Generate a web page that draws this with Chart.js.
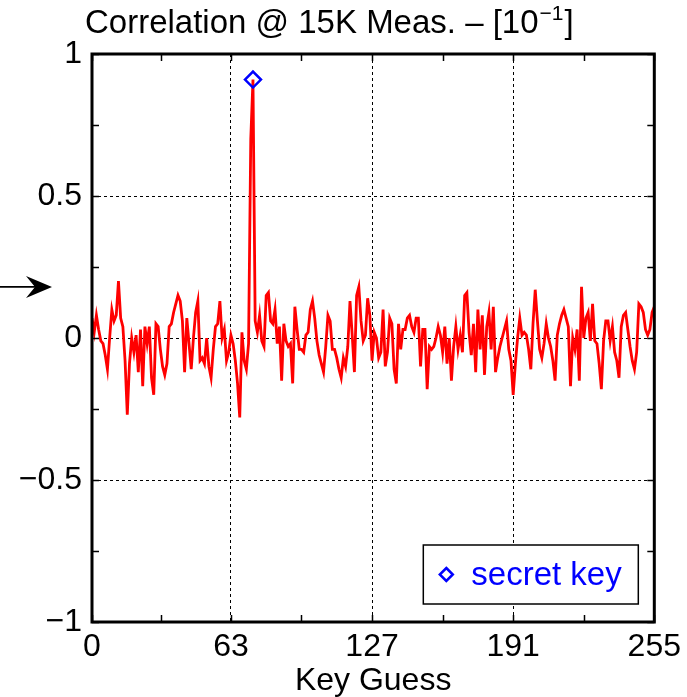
<!DOCTYPE html>
<html>
<head>
<meta charset="utf-8">
<script src="https://cdn.jsdelivr.net/npm/chart.js@4/dist/chart.umd.min.js"></script>
<style>
html, body { margin: 0; padding: 0; background: #fff; }
#wrap { width: 687px; height: 697px; }
</style>
</head>
<body>
<div id="wrap"><canvas id="myChart"></canvas></div>
<script>
// correlation per key guess (0..255)
const correlation = [
	0.07, 0.02, 0.08, 0.03, -0.01, -0.02, -0.06, -0.11, 0.0, 0.10,
	0.06, 0.08, 0.20, 0.07, 0.04, -0.08, -0.27, -0.09, 0.00, -0.05,
	0.01, -0.12, 0.03, -0.17, 0.04, -0.02, 0.04, -0.14, -0.20, 0.05,
	0.04, -0.04, -0.10, -0.13, -0.09, 0.04, 0.05, 0.09, 0.12, 0.15,
	0.13, 0.06, -0.12, 0.07,
	-0.02, -0.11, 0.0, 0.09, 0.13, -0.08, -0.07, -0.09, 0.0, -0.10,
	-0.14, -0.04, 0.04, 0.05, 0.13, 0.0, 0.03, -0.08, -0.05, 0.01,
	-0.02, -0.08, -0.16, -0.28, 0.02, -0.08, -0.11, -0.02, 0.70, 0.91,
	0.06, 0.02, 0.08, -0.01, -0.03, 0.15, 0.16, 0.06, 0.05, 0.10,
	-0.02, 0.04, -0.15,
	0.05, -0.01, -0.03, -0.02, -0.16, 0.11, 0.03, -0.04, -0.04, -0.05,
	0.01, 0.02, 0.10, 0.13, 0.07, -0.01, -0.06, -0.09, -0.12, -0.03,
	0.08, 0.06, -0.04, -0.04, -0.07, -0.11, -0.14, -0.07, -0.10, -0.03,
	0.13, 0.01, -0.12, 0.15, 0.18, 0.06, -0.01, 0.01, 0.14, 0.08,
	-0.08, 0.02, 0.0, -0.07,
	-0.05, 0.10, -0.10, -0.05, 0.07, 0.05, -0.11, -0.16, 0.05, -0.04,
	0.03, 0.03, 0.07, 0.08, 0.04, 0.02, 0.07, 0.07, -0.10, 0.03,
	0.03, -0.18, -0.03, -0.04, -0.03, 0.0, 0.04, 0.01, -0.05, 0.04,
	-0.09, 0.0, -0.15, -0.03, 0.04, -0.04, 0.01, -0.05, 0.15, 0.16,
	0.02, -0.06, 0.05, -0.12,
	0.10, -0.04, 0.08, -0.13, 0.04, 0.09, -0.04, 0.11, -0.12, -0.07,
	-0.03, 0.0, 0.03, 0.06, -0.04, -0.08, -0.20, -0.09, 0.0, 0.07,
	0.01, 0.02, 0.01, -0.04, -0.11, 0.05, 0.17, 0.06, -0.04, -0.07,
	-0.02, 0.05, 0.0, -0.03, -0.08, -0.15, 0.01, 0.05, 0.08, 0.10,
	0.07, 0.04, -0.17,
	0.0, -0.04, 0.03, -0.15, 0.18, 0.0, 0.07, 0.09, -0.01, 0.12,
	-0.01, -0.02, -0.09, -0.18, -0.01, 0.06, 0.06, -0.01, 0.04, -0.05,
	-0.08, -0.14, 0.04, 0.08, 0.09, 0.03, -0.03, -0.08, -0.11, -0.05,
	0.12, 0.11, 0.09, 0.03, 0.01, 0.03, 0.09, 0.11,
]
const secretKey = [73]
const xTickLabels = [0, 63, 127, 191, 255]
const xMinorTicks = [31.5, 95, 159, 223]
const yTickLabels = [-1, -0.5, 0, 0.5, 1]
const yMinorTicks = [-0.75, -0.25, 0.25, 0.75]
const arrowLevel = 0.18

const FONT = '"Liberation Sans", Arial, Helvetica, sans-serif'

// frame, inward ticks, title, legend and arrow
const decorations = {
	id: "decorations",
	afterDraw: chart => {
		const ctx = chart.ctx
		const { left, right, top, bottom } = chart.chartArea
		const xs = chart.scales.x
		const ys = chart.scales.y
		const tl = 7

		ctx.save()
		ctx.strokeStyle = "#000"
		ctx.lineWidth = 1.5
		ctx.beginPath()
		xTickLabels.concat(xMinorTicks).forEach(v => {
			const px = Math.round(xs.getPixelForValue(v)) + 0.5
			ctx.moveTo(px, bottom); ctx.lineTo(px, bottom - tl)
			ctx.moveTo(px, top); ctx.lineTo(px, top + tl)
		})
		yTickLabels.concat(yMinorTicks).forEach(v => {
			const py = Math.round(ys.getPixelForValue(v)) + 0.5
			ctx.moveTo(left, py); ctx.lineTo(left + tl, py)
			ctx.moveTo(right, py); ctx.lineTo(right - tl, py)
		})
		ctx.stroke()

		ctx.lineWidth = 3
		ctx.strokeRect(left, top, right - left, bottom - top)

		// title with superscript
		ctx.fillStyle = "#000"
		ctx.textBaseline = "alphabetic"
		ctx.textAlign = "left"
		ctx.font = "33px " + FONT
		const t1 = "Correlation @ 15K Meas. \u2013 [10"
		let tx = 85
		const ty = 33
		ctx.fillText(t1, tx, ty)
		tx += ctx.measureText(t1).width
		ctx.font = "21px " + FONT
		ctx.fillText("\u22121", tx + 1, ty - 13)
		tx += ctx.measureText("\u22121").width + 2
		ctx.font = "33px " + FONT
		ctx.fillText("]", tx, ty)

		// legend box
		const ds = chart.data.datasets[0]
		const lw = 215, lh = 59
		const lx = right - 16 - lw
		const ly = bottom - 18 - lh
		ctx.fillStyle = "#fff"
		ctx.fillRect(lx, ly, lw, lh)
		ctx.lineWidth = 1.5
		ctx.strokeStyle = "#000"
		ctx.strokeRect(lx, ly, lw, lh)
		const mx = lx + 23, my = ly + lh / 2
		const r = 6.5
		ctx.strokeStyle = ds.pointBorderColor
		ctx.lineWidth = 2.5
		ctx.beginPath()
		ctx.moveTo(mx, my - r); ctx.lineTo(mx + r, my); ctx.lineTo(mx, my + r); ctx.lineTo(mx - r, my)
		ctx.closePath()
		ctx.stroke()
		ctx.fillStyle = ds.pointBorderColor
		ctx.font = "33px " + FONT
		ctx.textBaseline = "middle"
		ctx.fillText(ds.label, lx + 48, my + 1)

		// arrow pointing at the axis
		const ay = ys.getPixelForValue(arrowLevel)
		ctx.strokeStyle = "#000"
		ctx.fillStyle = "#000"
		ctx.lineWidth = 1.8
		ctx.beginPath()
		ctx.moveTo(0, ay); ctx.lineTo(38, ay)
		ctx.stroke()
		ctx.beginPath()
		ctx.moveTo(52, ay)
		ctx.lineTo(26, ay - 11)
		ctx.lineTo(35, ay)
		ctx.lineTo(26, ay + 11)
		ctx.closePath()
		ctx.fill()
		ctx.restore()
	},
}

const minus = v => (v < 0 ? "\u2212" : "") + Math.abs(v)

const chart = document.querySelector("#myChart").getContext("2d")
const myChart = new Chart(chart, {
	type: "line",
	data: {
		datasets: [
			{
				label: "secret key",
				data: secretKey.map(k => ({ x: k, y: correlation[k] })),
				showLine: false,
				pointStyle: "rectRot",
				pointRadius: 8,
				pointBorderWidth: 2.5,
				pointBorderColor: "#0000ff",
				pointBackgroundColor: "rgba(0,0,0,0)",
				order: 0,
			},
			{
				label: "correlation",
				data: correlation.map((v, i) => ({ x: i, y: v })),
				borderColor: "#ff0000",
				borderWidth: 2.8,
				pointRadius: 0,
				tension: 0,
				order: 1,
			},
		],
	},
	options: {
		responsive: true,
		maintainAspectRatio: false,
		animation: false,
		devicePixelRatio: 1,
		layout: { padding: { top: 54, right: 29, left: 0, bottom: 0 } },
		plugins: {
			legend: { display: false },
			title: { display: false },
			tooltip: { enabled: false },
		},
		scales: {
			x: {
				type: "linear",
				min: 0,
				max: 255,
				afterBuildTicks: s => { s.ticks = xTickLabels.map(v => ({ value: v })) },
				afterFit: s => { s.height = 75 },
				ticks: {
					font: { family: FONT, size: 32 },
					color: "#000",
					padding: 6,
					maxRotation: 0,
					autoSkip: false,
				},
				grid: { color: "#000", lineWidth: 1, drawTicks: false },
				border: { display: false, dash: [3, 3] },
				title: {
					display: true,
					text: "Key Guess",
					font: { family: FONT, size: 32, lineHeight: 1 },
					color: "#000",
					padding: { top: 0, bottom: 0 },
				},
			},
			y: {
				min: -1,
				max: 1,
				afterBuildTicks: s => { s.ticks = yTickLabels.map(v => ({ value: v })) },
				afterFit: s => { s.width = 92 },
				ticks: {
					font: { family: FONT, size: 32 },
					color: "#000",
					padding: 10,
					callback: v => minus(v),
				},
				grid: { color: "#000", lineWidth: 1, drawTicks: false },
				border: { display: false, dash: [3, 3] },
			},
		},
	},
	plugins: [decorations],
})
</script>
</body>
</html>
